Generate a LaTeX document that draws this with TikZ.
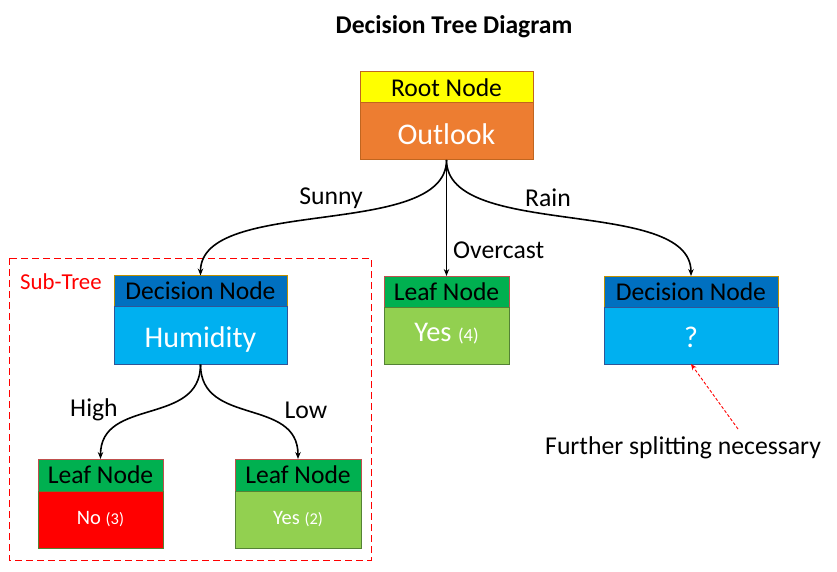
\documentclass[tikz,border=0pt]{standalone}
\usepackage{fontspec}
\setmainfont{Carlito}
\usetikzlibrary{arrows.meta}
\definecolor{hdrYellow}{HTML}{FFFF00}
\definecolor{rootOrange}{HTML}{ED7D31}
\definecolor{rootBorder}{HTML}{C0651F}
\definecolor{decHdr}{HTML}{0070C0}
\definecolor{decHdrBorder}{HTML}{BF9000}
\definecolor{decBody}{HTML}{00B0F0}
\definecolor{decBodyBorder}{HTML}{2F5597}
\definecolor{leafHdr}{HTML}{00B050}
\definecolor{leafHdrBorder}{HTML}{C0504D}
\definecolor{leafGreen}{HTML}{92D050}
\definecolor{leafBorder}{HTML}{548235}
\definecolor{leafRed}{HTML}{FF0000}
\tikzset{
  boxpart/.style={draw, line width=1pt, inner sep=0pt, outer sep=0pt, anchor=north west},
  hdrtext/.style={font=\fontsize{25.6}{28}\selectfont, text=black},
  bigtext/.style={text=white, font=\fontsize{30}{32}\selectfont},
  conn/.style={line width=1.6pt, -{Stealth[length=7pt,width=5.5pt]}},
  lbl/.style={font=\fontsize{25.7}{28}\selectfont, inner sep=0pt},
}
\begin{document}
\begin{tikzpicture}[x=1pt,y=-1pt]
\useasboundingbox (0,0) rectangle (837,572);
% title
\node[font=\bfseries\fontsize{25.6}{28}\selectfont, inner sep=0pt] (title) at (454,27) {Decision Tree Diagram};
% sub-tree frame
\draw[leafRed, line width=1pt, dash pattern=on 7pt off 4pt] (9,258) rectangle (371,560);
\node[font=\fontsize{22.8}{26}\selectfont, text=leafRed, anchor=west, inner sep=0pt] (subtree) at (20,282) {Sub-Tree};
% root
\node[boxpart, hdrtext, fill=hdrYellow, draw=rootBorder, minimum width=173pt, minimum height=31pt] (rootH) at (360,72) {Root Node};
\node[boxpart, fill=rootOrange, draw=rootBorder, minimum width=173pt, minimum height=57pt] (rootB) at (360,103) {};
\node[bigtext, inner sep=0pt] (rootT) at ([yshift=-3pt]rootB.center) {Outlook};
% humidity
\node[boxpart, hdrtext, fill=decHdr, draw=decHdrBorder, minimum width=173pt, minimum height=31pt] (humH) at (114,275.5) {Decision Node};
\node[boxpart, fill=decBody, draw=decBodyBorder, minimum width=173pt, minimum height=58pt] (humB) at (114,306.5) {};
\node[bigtext, inner sep=0pt] (humT) at ([yshift=-4pt]humB.center) {Humidity};
% yes (4)
\node[boxpart, hdrtext, fill=leafHdr, draw=leafHdrBorder, minimum width=125pt, minimum height=31pt] (yesH) at (384,276) {Leaf Node};
\node[boxpart, fill=leafGreen, draw=leafBorder, minimum width=125pt, minimum height=57pt] (yesB) at (384,307) {};
\node[text=white, inner sep=0pt] (yesT) at ([yshift=2pt]yesB.center) {\fontsize{28.5}{30}\selectfont Yes {\fontsize{18.5}{20}\selectfont (4)}};
% ?
\node[boxpart, hdrtext, fill=decHdr, draw=decHdrBorder, minimum width=174pt, minimum height=31pt] (qH) at (604,276) {Decision Node};
\node[boxpart, fill=decBody, draw=decBodyBorder, minimum width=174pt, minimum height=57pt] (qB) at (604,307) {};
\node[bigtext, inner sep=0pt] (qT) at ([yshift=-2pt]qB.center) {?};
% no (3)
\node[boxpart, hdrtext, fill=leafHdr, draw=leafHdrBorder, minimum width=125pt, minimum height=32pt] (noH) at (38,459) {Leaf Node};
\node[boxpart, fill=leafRed, draw=leafBorder, minimum width=125pt, minimum height=57pt, text=white] (noB) at (38,491) {\fontsize{20.5}{22}\selectfont No {\fontsize{16.5}{18}\selectfont (3)}};
% yes (2)
\node[boxpart, hdrtext, fill=leafHdr, draw=leafHdrBorder, minimum width=126pt, minimum height=32pt] (y2H) at (235,459) {Leaf Node};
\node[boxpart, fill=leafGreen, draw=leafBorder, minimum width=126pt, minimum height=57pt, text=white] (y2B) at (235,491) {\fontsize{20.5}{22}\selectfont Yes {\fontsize{16.5}{18}\selectfont (2)}};
% connectors
\draw[conn] (rootB.south) .. controls +(0,80) and +(0,-80) .. (humH.north);
\draw[conn] (rootB.south) -- (yesH.north);
\draw[conn] (rootB.south) .. controls +(0,80) and +(0,-80) .. (qH.north);
\draw[conn] (humB.south) .. controls +(0,62) and +(0,-62) .. (noH.north);
\draw[conn] (humB.south) .. controls +(0,62) and +(0,-62) .. (y2H.north);
% labels
\node[lbl] (lSunny) at (331,198) {Sunny};
\node[lbl] (lRain) at (548,198) {Rain};
\node[lbl, anchor=west] (lOver) at (453,250) {Overcast};
\node[lbl] (lHigh) at (94,410) {High};
\node[lbl] (lLow) at (306,410) {Low};
% further splitting
\node[lbl, anchor=west] (further) at (545,448) {Further splitting necessary};
\coordinate (fsTail) at (738,429);
\draw[leafRed, line width=0.9pt, dash pattern=on 3pt off 2pt, -{Stealth[length=6pt,width=5pt]}] (fsTail) -- (qB.south);
\end{tikzpicture}
\end{document}
